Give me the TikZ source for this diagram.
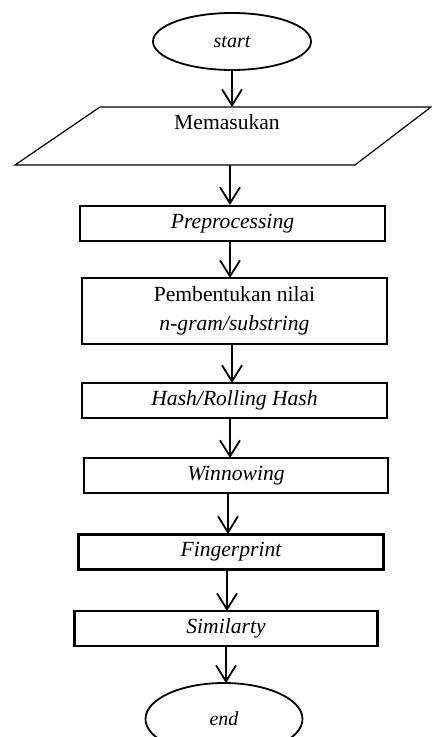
\documentclass[tikz,border=0pt]{standalone}
\usepackage{fontspec}
\setmainfont{Liberation Serif}
\usetikzlibrary{shapes.geometric,arrows.meta}
\tikzset{
  proses/.style={draw,line width=1.1pt,minimum width=152.5pt,minimum height=17.5pt,inner sep=0pt,align=center},
  terminal/.style={draw,ellipse,line width=0.9pt,inner sep=0pt,font=\itshape},
  alur/.style={line width=0.9pt,-{Straight Barb[length=8pt,width=10pt]}}
}
\begin{document}
\begin{tikzpicture}[x=0.5pt,y=-0.5pt,font=\fontsize{10.8}{14.5}\selectfont]
  \useasboundingbox (0,0) rectangle (432,737);
  \node[terminal,minimum width=79pt,minimum height=28.5pt] (start) at (232,41.5) {start};
  % jajar genjang untuk masukan
  \def\masukan{(100,107) -- (431,107) -- (355,165) -- (15,165) -- cycle}
  \draw[line width=0.6pt] \masukan;
  \coordinate (inAtas) at (232,107);
  \coordinate (inBawah) at (230,165);
  \node (input) at (227,122) {Memasukan};
  \node[proses] (pre) at (232.5,223.5) {\itshape Preprocessing};
  \node[proses,minimum height=33pt] (ngram) at (234.5,311) {Pembentukan nilai\\ \itshape n-gram/substring};
  \node[proses] (hash) at (234.5,400.5) {\itshape Hash/Rolling Hash};
  \node[proses,minimum width=152pt] (win) at (236,475.5) {\itshape Winnowing};
  \node[proses] (finger) at (231,552) {\itshape Fingerprint};
  \node[proses,minimum width=151.5pt] (sim) at (226,628.5) {\itshape Similarty};
  \node[terminal,minimum width=78.5pt,minimum height=36pt] (end) at (224,719) {end};
  % panah
  \draw[alur] (start.south) -- (inAtas);
  \draw[alur] (inBawah) -- (inBawah |- pre.north);
  \draw[alur] (230,241) -- (230,278);
  \draw[alur] (232,344) -- (232,383);
  \draw[alur] (230,418) -- (230,458);
  \draw[alur] (228,493) -- (228,534);
  \draw[alur] (227,570) -- (227,611);
  \draw[alur] (226,646) -- (226,683);
\end{tikzpicture}
\end{document}
